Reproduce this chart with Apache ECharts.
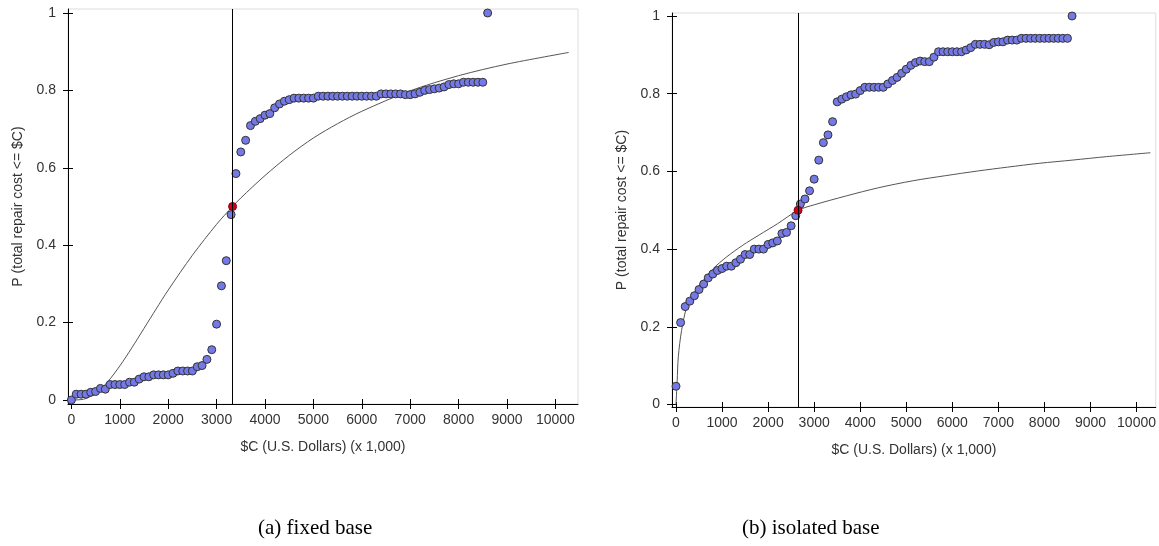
<!DOCTYPE html>
<html>
<head>
<meta charset="utf-8">
<script src="https://cdn.jsdelivr.net/npm/echarts@6/dist/echarts.min.js"></script>
<style>
  html, body { margin: 0; padding: 0; background: #fff; }
  #chart { width: 1159px; height: 546px; }
</style>
</head>
<body>
<div id="chart"></div>
<script>
// repair cost values ($C x 1,000) of the sorted samples, same for both panels
const costs = [
  0, 100, 200, 300, 400, 500, 600, 700, 800, 900,
  1000, 1100, 1200, 1300, 1400, 1500, 1600, 1700, 1800, 1900,
  2000, 2100, 2200, 2300, 2400, 2500, 2600, 2700, 2800, 2900,
  3000, 3100, 3200, 3300, 3400, 3500, 3600, 3700, 3800, 3900,
  4000, 4100, 4200, 4300, 4400, 4500, 4600, 4700, 4800, 4900,
  5000, 5100, 5200, 5300, 5400, 5500, 5600, 5700, 5800, 5900,
  6000, 6100, 6200, 6300, 6400, 6500, 6600, 6700, 6800, 6900,
  7000, 7100, 7200, 7300, 7400, 7500, 7600, 7700, 7800, 7900,
  8000, 8100, 8200, 8300, 8400, 8500, 8600
];

// (a) fixed base - empirical probabilities
const probFixed = [
  0, 0.015, 0.015, 0.015, 0.02, 0.022, 0.03, 0.028, 0.04, 0.04,
  0.04, 0.04, 0.046, 0.046, 0.054, 0.06, 0.06, 0.065, 0.065, 0.065,
  0.065, 0.069, 0.075, 0.075, 0.075, 0.075, 0.086, 0.089, 0.105, 0.13,
  0.196, 0.295, 0.36, 0.479, 0.585, 0.641, 0.671, 0.709, 0.72, 0.727,
  0.736, 0.74, 0.755, 0.765, 0.772, 0.776, 0.78, 0.78, 0.78, 0.78,
  0.78, 0.785, 0.785, 0.785, 0.785, 0.785, 0.785, 0.785, 0.785, 0.785,
  0.785, 0.785, 0.785, 0.785, 0.791, 0.791, 0.791, 0.791, 0.791, 0.789,
  0.789, 0.791, 0.795, 0.8, 0.802, 0.804, 0.806, 0.809, 0.815, 0.817,
  0.817, 0.821, 0.821, 0.821, 0.821, 0.821, 1
];

// (b) isolated base - empirical probabilities
const probIsolated = [
  0.047, 0.211, 0.252, 0.266, 0.28, 0.296, 0.31, 0.326, 0.336, 0.345,
  0.35, 0.356, 0.356, 0.365, 0.374, 0.386, 0.386, 0.4, 0.4, 0.4,
  0.412, 0.416, 0.421, 0.44, 0.443, 0.46, 0.486, 0.516, 0.529, 0.55,
  0.58, 0.629, 0.674, 0.694, 0.728, 0.779, 0.786, 0.792, 0.797, 0.799,
  0.808, 0.8165, 0.8165, 0.8165, 0.8165, 0.8165, 0.825, 0.834, 0.842, 0.8525,
  0.863, 0.873, 0.88, 0.884, 0.8825, 0.8825, 0.894, 0.908, 0.908, 0.908,
  0.908, 0.908, 0.908, 0.9125, 0.9185, 0.927, 0.927, 0.927, 0.926, 0.932,
  0.9335, 0.9335, 0.938, 0.938, 0.938, 0.9425, 0.9425, 0.9425, 0.9425, 0.9425,
  0.9425, 0.9425, 0.9425, 0.9425, 0.9425, 0.9425, 1
];

// fitted curves
const fitCostFixed = [0, 250, 500, 750, 1000, 1250, 1500, 1750, 2000, 2500, 3000, 3330, 3500, 4000, 4500, 5000, 5500, 6000, 7000, 8000, 9000, 10275];
const fitProbFixed = [0, 0.002, 0.017, 0.047, 0.088, 0.135, 0.185, 0.235, 0.284, 0.374, 0.454, 0.5, 0.522, 0.58, 0.632, 0.677, 0.714, 0.746, 0.799, 0.838, 0.868, 0.898];

const fitCostIsolated = [0, 25, 50, 120, 230, 375, 600, 800, 1100, 1450, 1800, 2200, 2650, 3000, 3700, 4400, 5150, 5850, 6550, 7200, 7900, 8600, 9350, 10300];
const fitProbIsolated = [0, 0.06, 0.123, 0.19, 0.25, 0.285, 0.32, 0.349, 0.38, 0.41, 0.436, 0.465, 0.5, 0.514, 0.537, 0.558, 0.576, 0.589, 0.601, 0.611, 0.621, 0.629, 0.638, 0.648];

// median markers
const medianFixed = 3330;
const medianIsolated = 2650;

const chart = echarts.init(document.getElementById('chart'));

const FONT = 'Liberation Sans, Arial, sans-serif';
const xTicks = [0, 1000, 2000, 3000, 4000, 5000, 6000, 7000, 8000, 9000, 10000];
const yTicks = [0, 0.2, 0.4, 0.6, 0.8, 1];

function zip(xs, ys) {
  return xs.map((x, i) => [x, ys[i]]);
}

function makeX(gridIndex, min, max, main) {
  return {
    type: 'value',
    gridIndex: gridIndex,
    position: 'bottom',
    min: min,
    max: max,
    name: main ? '$C (U.S. Dollars) (x 1,000)' : '',
    nameLocation: 'middle',
    nameGap: 36,
    nameTextStyle: { color: '#333', fontSize: 14, fontFamily: FONT },
    axisLine: { show: main, onZero: false, lineStyle: { color: '#000', width: 1 } },
    axisTick: { show: true, inside: !main, length: 5, customValues: xTicks, lineStyle: { color: '#000' } },
    axisLabel: {
      show: main,
      customValues: xTicks,
      margin: 9,
      color: '#333',
      fontSize: 14,
      fontFamily: FONT,
      formatter: (v) => String(Math.round(v)),
    },
    splitLine: { show: false },
  };
}

function makeY(gridIndex, min, max, main) {
  return {
    type: 'value',
    gridIndex: gridIndex,
    position: 'left',
    min: min,
    max: max,
    name: main ? 'P (total repair cost <= $C)' : '',
    nameLocation: 'middle',
    nameGap: 43,
    nameTextStyle: { color: '#333', fontSize: 14, fontFamily: FONT },
    axisLine: { show: main, onZero: false, lineStyle: { color: '#000', width: 1 } },
    axisTick: { show: true, inside: !main, length: 5, customValues: yTicks, lineStyle: { color: '#000' } },
    axisLabel: {
      show: main,
      customValues: yTicks,
      margin: 12,
      color: '#333',
      fontSize: 14,
      fontFamily: FONT,
      formatter: (v) => String(+v.toFixed(1)),
    },
    splitLine: { show: false },
  };
}

function panelSeries(axisIndex, probs, fitX, fitY, median) {
  return [
    {
      type: 'line',
      xAxisIndex: axisIndex,
      yAxisIndex: axisIndex,
      data: zip(fitX, fitY),
      smooth: 0.3,
      showSymbol: false,
      lineStyle: { color: '#555', width: 1 },
      z: 2,
      markLine: {
        silent: true,
        symbol: 'none',
        label: { show: false },
        lineStyle: { color: '#000', width: 1, type: 'solid' },
        data: [{ xAxis: median }],
      },
    },
    {
      type: 'scatter',
      xAxisIndex: axisIndex,
      yAxisIndex: axisIndex,
      data: zip(costs, probs),
      symbolSize: 8,
      itemStyle: { color: '#7579e6', borderColor: '#333', borderWidth: 1, opacity: 1 },
      z: 3,
    },
    {
      type: 'scatter',
      xAxisIndex: axisIndex,
      yAxisIndex: axisIndex,
      data: [[median, 0.5]],
      symbolSize: 8,
      itemStyle: { color: '#d0021b', borderColor: '#8a0010', borderWidth: 1, opacity: 1 },
      z: 4,
    },
  ];
}

const option = {
  animation: false,
  backgroundColor: '#fff',
  grid: [
    { left: 68, top: 9, width: 510, height: 395, show: true, borderColor: '#ddd', borderWidth: 1, backgroundColor: 'transparent' },
    { left: 672, top: 13, width: 485, height: 394, show: true, borderColor: '#ddd', borderWidth: 1, backgroundColor: 'transparent' },
  ],
  xAxis: [
    makeX(0, -70, 10467, true),
    makeX(1, -87, 10418, true),
    makeX(0, -70, 10467, false),
    makeX(1, -87, 10418, false),
  ],
  yAxis: [
    makeY(0, -0.0103, 1.0103, true),
    makeY(1, -0.0064, 1.0077, true),
    makeY(0, -0.0103, 1.0103, false),
    makeY(1, -0.0064, 1.0077, false),
  ],
  series: [
    ...panelSeries(0, probFixed, fitCostFixed, fitProbFixed, medianFixed),
    ...panelSeries(1, probIsolated, fitCostIsolated, fitProbIsolated, medianIsolated),
  ],
  graphic: [
    {
      type: 'text',
      left: 331 - 73,
      top: 518,
      style: { text: '(a) fixed base', font: '21px "Liberation Serif", "Times New Roman", serif', fill: '#000' },
    },
    {
      type: 'text',
      left: 828 - 86,
      top: 518,
      style: { text: '(b) isolated base', font: '21px "Liberation Serif", "Times New Roman", serif', fill: '#000' },
    },
  ],
};

chart.setOption(option);
</script>
</body>
</html>
